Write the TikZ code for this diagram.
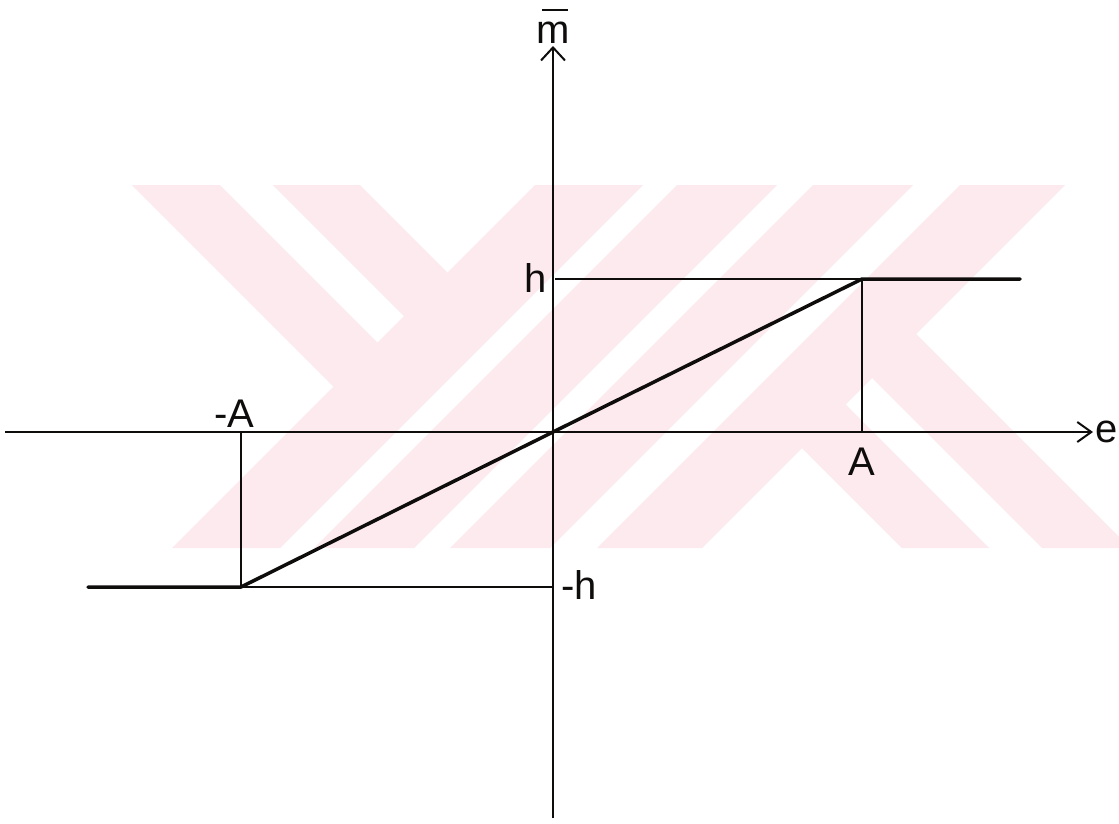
\documentclass[tikz,border=0pt]{standalone}
\usepackage{fontspec}
\setmainfont{Liberation Sans}
\usetikzlibrary{arrows.meta}
\definecolor{wm}{RGB}{252,234,238}
\definecolor{ink}{RGB}{15,12,12}
\begin{document}
\begin{tikzpicture}[x=1pt,y=-1pt,
  axis/.style={draw=ink,line width=2.4pt},
  thinline/.style={draw=ink,line width=1.9pt},
  curve/.style={draw=ink,line width=3.5pt,line join=round,line cap=round},
  lbl/.style={text=ink,font=\fontsize{40}{40}\selectfont,inner sep=0pt},
  wmark/.style={fill=wm,draw=none}]
\useasboundingbox (0,0) rectangle (1119,823);
\fill[white] (0,0) rectangle (1119,823);
% watermark
\begin{scope}
  \clip (0,185) rectangle (1119,548);
  % rising stripes (full height)
  \foreach \a/\b in {720/828, 862/962, 998/1098, 1145/1250}{
    \fill[wmark] (\a-185,185) -- (\b-185,185) -- (\b-548,548) -- (\a-548,548) -- cycle;
  }
  % falling stripes, upper left
  \fill[wmark] (132,185) -- (220,185) -- (402.5,367.5) -- (358.5,411.5) -- cycle;
  \fill[wmark] (273,185) -- (360,185) -- (472.5,297.5) -- (429,341) -- cycle;
  % falling stripes, lower right
  \fill[wmark] (1042,548) -- (1130,548) -- (891,309) -- (847,353) -- cycle;
  \fill[wmark] (902,548) -- (989,548) -- (820.5,379.5) -- (777,423) -- cycle;
\end{scope}
% points
\coordinate (O) at (553,432);
\coordinate (Ytop) at (553,46);
\coordinate (Ybot) at (553,818);
\coordinate (Xl) at (5,432);
\coordinate (Xr) at (1093,432);
\coordinate (Hp) at (862,279);
\coordinate (Hn) at (241,587);
\coordinate (Hax) at (555,279);
\coordinate (Hend) at (1020,279);
\coordinate (Nax) at (553,587);
\coordinate (Nend) at (88,587);
\coordinate (Ap) at (862,432);
\coordinate (An) at (241,432);
% axes
\draw[axis,-{Straight Barb[length=13pt,width=24pt,line width=2pt]}] (Ybot) -- (Ytop);
\draw[axis,-{Straight Barb[length=14pt,width=20pt,line width=2pt]}] (Xl) -- (Xr);
% guide lines
\draw[thinline] (Hax) -- (Hp);
\draw[thinline] (Hp) -- (Ap);
\draw[thinline] (An) -- (Hn) -- (Nax);
% characteristic
\draw[curve] (Nend) -- (Hn) -- (O) -- (Hp) -- (Hend);
% labels
\node[lbl] (lm) at (553,33) {m};
\draw[ink,line width=2pt] ([xshift=-11pt]lm.north) ++(0,-12) -- ++(26,0);
\node[lbl] (lh) at (536,278) {h};
\node[lbl] (lnh) at (579,585) {-h};
\node[lbl] (lnA) at (234,414) {-A};
\node[lbl] (lA) at (862,462) {A};
\node[lbl] (le) at (1107,432) {e};
\end{tikzpicture}
\end{document}
